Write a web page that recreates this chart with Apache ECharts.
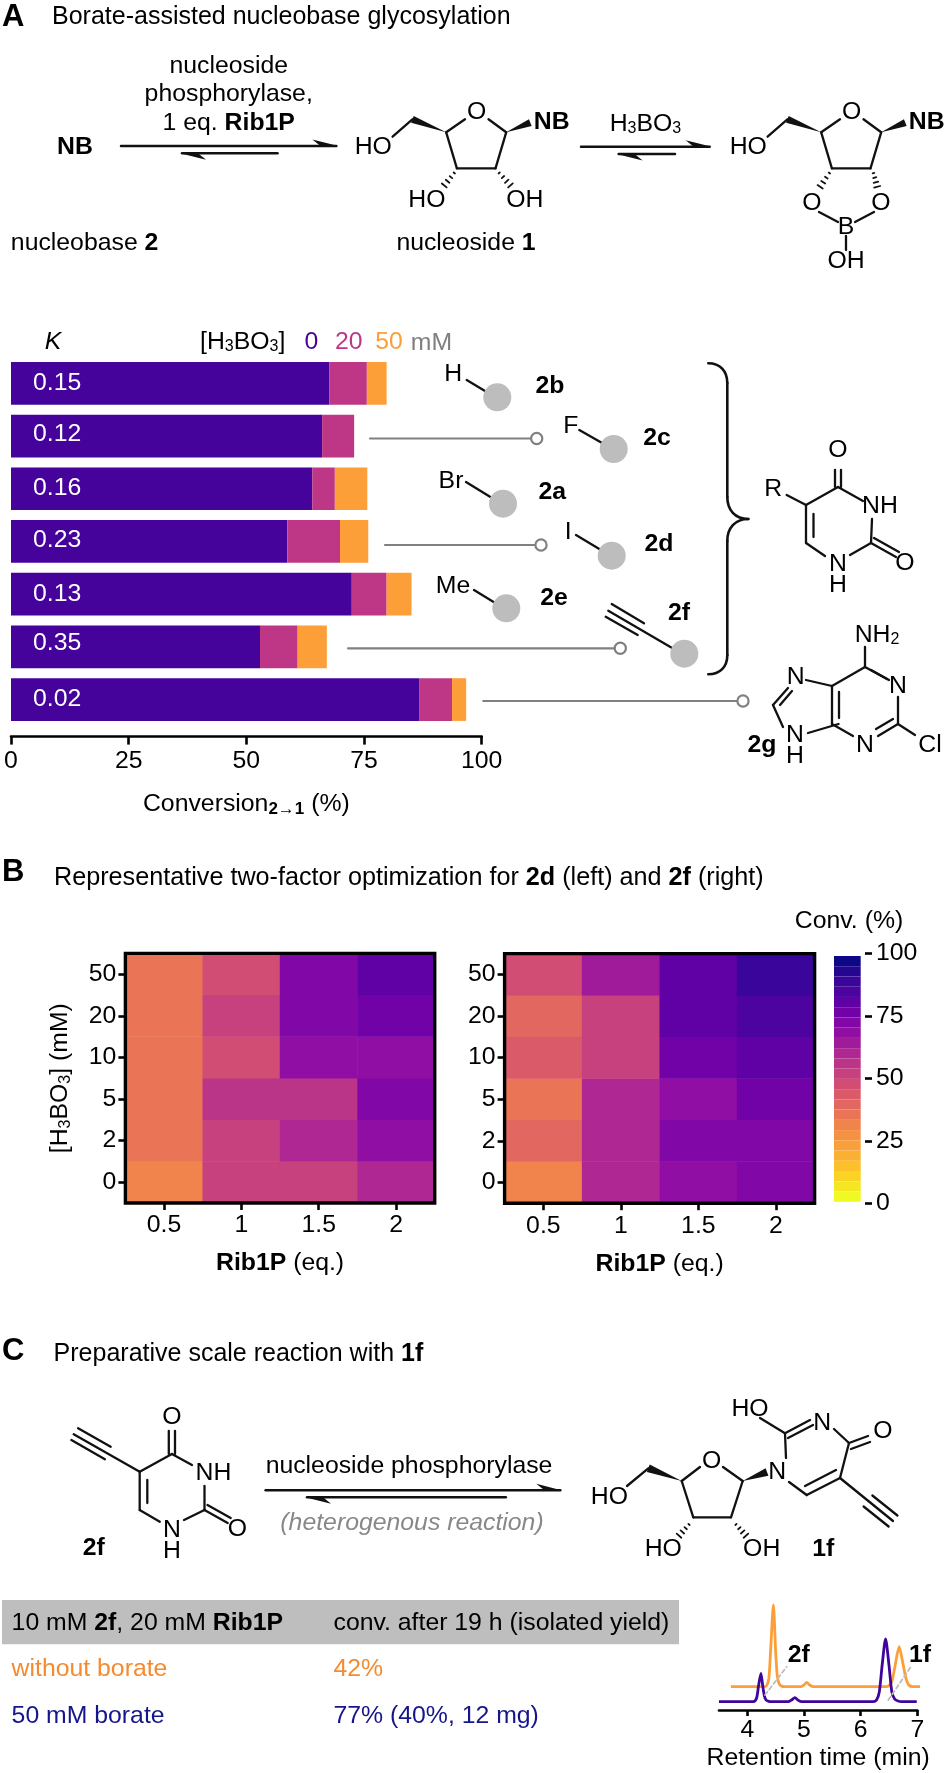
<!DOCTYPE html>
<html><head><meta charset="utf-8">
<style>html,body{margin:0;padding:0;background:#fff}#c{width:945px;height:1773px}</style>
<script src="https://cdn.jsdelivr.net/npm/echarts@6/dist/echarts.min.js"></script>
</head><body><div id="c"></div>
<script>
// ---------- data ----------
const kValues = ['0.15','0.12','0.16','0.23','0.13','0.35','0.02'];
const conv0  = [67.6, 66.1, 64.0, 58.7, 72.4, 52.9, 86.7];
const conv20 = [8.0, 6.8, 4.8, 11.2, 7.4, 8.0, 7.0];
const conv50 = [4.2, 0, 6.9, 6.0, 5.3, 6.2, 3.0];
const conversionTicks = [0, 25, 50, 75, 100];
const ribEq = ['0.5', '1', '1.5', '2'];
const boricBottomUp = ['0', '2', '5', '10', '20', '50'];
// rows listed from 0 mM (bottom) to 50 mM (top); columns follow ribEq
const heatLeftRows = [
  [31, 52, 52, 60],
  [35, 52, 60, 69],
  [35, 56, 56, 73],
  [35, 48, 69, 69],
  [35, 52, 73, 77],
  [35, 48, 73, 81]
];
const heatRightRows = [
  [31, 60, 69, 73],
  [40, 60, 73, 73],
  [35, 60, 69, 77],
  [44, 52, 77, 81],
  [40, 52, 81, 85],
  [48, 65, 81, 89.5]
];
const colorbarTicks = [0, 25, 50, 75, 100];
const retentionTicks = [4, 5, 6, 7];
const traceNoBorate = [[3.71,4.5],[4.3,4.5],[4.34,4.8],[4.38,7],[4.41,15],[4.46,29],[4.5,15],[4.53,7.5],[4.56,5.5],[4.6,4.7],[4.66,4.5],[4.95,4.5],[5.0,5],[5.05,5.8],[5.1,5],[5.16,4.5],[6.45,4.5],[6.5,4.8],[6.55,6],[6.6,10],[6.68,16.5],[6.74,12],[6.8,7],[6.85,5],[6.92,4.5],[7.19,4.5]];
const traceBorate = [[3.5,0],[4.1,0],[4.14,0.3],[4.17,1.5],[4.2,5],[4.24,8.5],[4.27,5],[4.3,1.8],[4.33,0.5],[4.38,0.1],[4.42,0],[4.72,0],[4.78,0.5],[4.84,1.2],[4.9,0.4],[4.96,0],[6.22,0],[6.28,0.5],[6.33,3],[6.38,11],[6.44,18.8],[6.5,11],[6.55,3],[6.6,0.8],[6.66,0.2],[6.72,0],[6.99,0]];

// ---------- style ----------
const FF = '"Liberation Sans", Arial, sans-serif';
const FS = 24.8;
const PURPLE = '#46039c', MAGENTA = '#bd3786', ORANGE = '#fd9f38', GREY = '#808080';
const plasmaLowToHigh = ['#f0f921','#fccd25','#fca636','#f2844b','#e16462','#cc4778','#b12a90','#8f0da4','#6a00a8','#41049d','#0d0887'];
const makeRich = size => ({
  n: {fontFamily: FF, fontSize: size, fill: '#000', color: '#000'},
  b: {fontFamily: FF, fontSize: size, fontWeight: 'bold', fill: '#000', color: '#000'},
  s: {fontFamily: FF, fontSize: 16, fill: '#000', color: '#000', padding: [10, 0, 0, 0]},
  sb: {fontFamily: FF, fontSize: 17, fontWeight: 'bold', fill: '#000', color: '#000', padding: [10, 0, 0, 0]}
});
const rich = makeRich(FS);

// ---------- graphic helpers ----------
const G = [];
const INK = '#111';
function L(x1, y1, x2, y2, w, c, extra) {
  G.push({type: 'line', silent: true, z: 40, shape: {x1, y1, x2, y2},
    style: Object.assign({stroke: c || INK, lineWidth: w || 2.3, lineCap: 'round'}, extra || {})});
}
function bonds(list) { list.forEach(b => L(b[0], b[1], b[2], b[3])); }
function T(x, y, text, o) {
  G.push({type: 'text', silent: true, z: 50, style: Object.assign({
    x, y, text, align: 'center', verticalAlign: 'middle', fontFamily: FF, fontSize: FS, fill: '#000', rich
  }, o || {})});
}
function wedge(x1, y1, x2, y2, hw) {
  const d = Math.hypot(x2 - x1, y2 - y1), nx = -(y2 - y1) / d * (hw || 3.6), ny = (x2 - x1) / d * (hw || 3.6);
  G.push({type: 'polygon', silent: true, z: 40, shape: {points: [[x1, y1], [x2 + nx, y2 + ny], [x2 - nx, y2 - ny]]}, style: {fill: INK}});
}
function hash(x1, y1, x2, y2) {
  const n = 4, d = Math.hypot(x2 - x1, y2 - y1), ux = -(y2 - y1) / d, uy = (x2 - x1) / d;
  for (let i = 0; i < n; i++) {
    const t = (i + 0.3) / n, cx = x1 + (x2 - x1) * t, cy = y1 + (y2 - y1) * t, h = 0.6 + t * 3;
    L(cx - ux * h, cy - uy * h, cx + ux * h, cy + uy * h, 1.8);
  }
}
function arrow(x1, y, x2, side) {
  const dir = x2 > x1 ? 1 : -1;
  L(x1, y, x2, y, 2.5);
  G.push({type: 'polygon', silent: true, z: 40, shape: {points: [[x2, y + side * 0.4], [x2 - dir * 24, y + side * 6.5], [x2 - dir * 16, y]]}, style: {fill: INK}});
}
function curve(x1, y1, cx1, cy1, cx2, cy2, x2, y2) {
  G.push({type: 'bezierCurve', silent: true, z: 40,
    shape: {x1, y1, x2, y2, cpx1: cx1, cpy1: cy1, cpx2: cx2, cpy2: cy2},
    style: {fill: 'none', stroke: INK, lineWidth: 2.6, lineCap: 'round'}});
}
function furanose(dx, dy) { // ribose ring, placed by offset
  bonds([[392.6,136.7,412.4,119.3],[446.2,132.3,465,119.3],[488.5,119.3,506.2,132.3],[506.2,132.3,495.5,168.3],[495.5,168.3,456.9,168.3],[456.9,168.3,446.2,132.3]].map(b => [b[0]+dx,b[1]+dy,b[2]+dx,b[3]+dy]));
  wedge(446.2+dx, 132.3+dy, 412.4+dx, 119.3+dy);
  wedge(506.2+dx, 132.3+dy, 530.3+dx, 122.7+dy);
  T(476.7+dx, 111.7+dy, 'O');
  T(373.3+dx, 146.7+dy, 'HO');
  T(551.7+dx, 121.7+dy, '{b|NB}');
}

// ---------- panel A scheme ----------
T(2, 17, 'A', {align: 'left', fontWeight: 'bold', fontSize: 31});
T(52, 17, 'Borate-assisted nucleobase glycosylation', {align: 'left', fontSize: 25});
T(228.7, 66, 'nucleoside');
T(228.7, 94.3, 'phosphorylase,');
T(228.7, 122.7, '{n|1 eq. }{b|Rib1P}');
T(75, 146.7, '{b|NB}');
arrow(121, 146, 336.4, -1);
arrow(277.5, 153.3, 182, 1);
furanose(0, 0);
hash(455.3, 171.7, 441.9, 188.3);
hash(498.1, 171.7, 513.1, 188.3);
T(426.9, 200, 'HO');
T(524.9, 200, 'OH');
T(84.6, 243, '{n|nucleobase }{b|2}');
T(466, 243, '{n|nucleoside }{b|1}');
T(645.4, 124, '{n|H}{s|3}{n|BO}{s|3}');
arrow(581, 146.7, 709.7, -1);
arrow(675, 154, 618.6, 1);
furanose(375, 0);
hash(830.3, 171.7, 818, 190);
hash(873.1, 171.7, 878, 190);
T(812, 203, 'O');
T(881, 203, 'O');
T(846, 227, 'B');
T(846, 261, 'OH');
bonds([[819,212,838,222],[874,212,855,222],[846,236,846,250]]);

// ---------- panel A chart annotations ----------
T(53, 342, 'K', {fontStyle: 'italic'});
T(200, 342, '{n|[H}{s|3}{n|BO}{s|3}{n|]}', {align: 'left'});
T(311.5, 342, '0', {fill: PURPLE});
T(348.7, 342, '20', {fill: MAGENTA});
T(389, 342, '50', {fill: ORANGE});
T(431.5, 343, 'mM', {fill: GREY});
[[370, 438.5, 536.7],[385, 545, 541],[348, 648.3, 620.3],[483.3, 701, 743]].forEach(c => {
  L(c[0], c[1], c[2] - 6, c[1], 2.2, GREY);
  G.push({type: 'circle', silent: true, z: 41, shape: {cx: c[2], cy: c[1], r: 5.6}, style: {fill: '#fff', stroke: GREY, lineWidth: 2.2}});
});
function sub(tx, ty, label, bx1, by1, bx2, by2, cx, cy, nx, ny, name) {
  if (label) T(tx, ty, label);
  L(bx1, by1, bx2, by2);
  G.push({type: 'circle', silent: true, z: 41, shape: {cx, cy, r: 14}, style: {fill: '#bdbdbd'}});
  T(nx, ny, '{b|' + name + '}');
}
sub(453.3, 374, 'H', 466.7, 380, 485, 391, 497.3, 397.3, 550, 385.7, '2b');
sub(570.7, 426, 'F', 579.3, 430, 601.7, 442.7, 613.7, 449, 657, 437.7, '2c');
sub(451, 480.7, 'Br', 466, 482, 490, 496.7, 503, 503.7, 552.3, 492.3, '2a');
sub(568.3, 532.3, 'I', 576, 535, 599.3, 549, 611.7, 555.7, 659, 544.3, '2d');
sub(453, 586, 'Me', 474, 590, 494, 602.3, 506.3, 608.3, 554, 597.7, '2e');
sub(0, 0, '', 608.3, 610.7, 671.7, 647.7, 684.3, 653.7, 679, 613.3, '2f');
bonds([[611.7,604,644,623.3],[605.7,616.7,637.7,635]]);
curve(708.3,363.3, 720,363.3, 727.3,371, 727.3,383);
L(727.3,383,727.3,497,2.6);
curve(727.3,497, 727.3,510, 735,519, 748.3,519);
curve(748.3,519, 735,519, 727.3,528, 727.3,541);
L(727.3,541,727.3,655,2.6);
curve(727.3,655, 727.3,667, 720,674.3, 708.3,674.3);
// uracil with R
T(773.3, 489, 'R');
bonds([[786.7,495,806,505],[806,505,838,487],[838,487,863,501],[872,519,871,543],[871,543,850,555],[825,556,806,543],[806,543,806,505],[813.5,514,813.5,537],[835,470,835,487],[841,470,841,487],[871,543,896,557],[874,538,899,552]]);
T(838, 450, 'O');
T(880, 506, 'NH');
T(838, 564, 'N');
T(838, 585, 'H');
T(905, 563, 'O');
// 2-chloroadenine
T(795.7, 676.7, 'N');
T(898, 686, 'N');
T(865, 745, 'N');
T(795, 735, 'N');
T(795, 756, 'H');
T(877, 635, '{n|NH}{s|2}');
T(930, 745, 'Cl');
T(762, 745, '{b|2g}');
bonds([[806,680,832,686],[832,686,865,667],[865,667,887,679],[898,697,898,724],[898,724,878,736],[853,736,832,724],[832,724,832,686],[839,692,839,718],[838.5,724,808,733],[783,727,773,705],[773,705,788,688],[780,705,792,691],[865,667,865,647],[871,670,889,680],[893,719,876,729],[898,724,915,735]]);

// ---------- panel B text ----------
T(2, 872, 'B', {align: 'left', fontWeight: 'bold', fontSize: 31});
T(54, 878, '{n|Representative two-factor optimization for }{b|2d}{n| (left) and }{b|2f}{n| (right)}', {align: 'left', rich: makeRich(25.2)});
T(849, 921, 'Conv. (%)');

// ---------- panel C ----------
T(2, 1351, 'C', {align: 'left', fontWeight: 'bold', fontSize: 31});
T(53.6, 1354, '{n|Preparative scale reaction with }{b|1f}', {align: 'left', rich: makeRich(25)});
bonds([[78.1,1428.3,110.7,1446.7],[71.4,1440,104.9,1459.3],[73.7,1434.3,139.7,1471.7],[139.7,1471.7,171.9,1454],[171.9,1454,192,1465],[204.5,1486,204.5,1510],[204.5,1510,184,1520],[159.8,1521.7,139.7,1510],[139.7,1510,139.7,1471.7],[147.3,1480,147.3,1503],[168.8,1431,168.8,1454],[175,1431,175,1454],[204.5,1510,227.7,1523],[207.5,1505,230.7,1518]]);
T(171.9, 1416.7, 'O');
T(213.4, 1473, 'NH');
T(171.9, 1530, 'N');
T(171.9, 1551, 'H');
T(237.5, 1529, 'O');
T(93.75, 1548.3, '{b|2f}');
T(409, 1466, 'nucleoside phosphorylase');
arrow(265.6, 1490.3, 560.3, -1);
arrow(505.8, 1497.3, 307, 1);
T(412, 1522.7, '(heterogenous reaction)', {fontStyle: 'italic', fill: '#888'});
bonds([[627,1486,648.3,1468.3],[681.7,1481,700,1467],[723,1467,742.7,1481],[742.7,1481,731,1517.3],[731,1517.3,693.3,1517.3],[693.3,1517.3,681.7,1481],[786,1458,785,1433.3],[785,1433.3,810,1420],[788,1438,813,1425],[760,1418,785,1433.3],[834,1429,849,1443],[849,1443,840,1478],[840,1478,806.7,1495],[836,1470,805,1486],[806.7,1495,789,1482],[849,1443,868,1436],[851,1449,870,1442],[840,1478,893,1521],[872.4,1495.5,897.4,1515.5],[863.6,1506.5,888.6,1526.5]]);
wedge(681.7, 1481, 648.3, 1468.3, 4);
wedge(742.7, 1481, 767, 1472, 4);
hash(690, 1523.3, 676.7, 1538.3);
hash(735, 1523.3, 748.3, 1538.3);
T(711.7, 1460.7, 'O');
T(609.4, 1496.7, 'HO');
T(663.3, 1549, 'HO');
T(761.7, 1549, 'OH');
T(823.3, 1549, '{b|1f}');
T(777.3, 1471.7, 'N');
T(750, 1409.3, 'HO');
T(822.3, 1423.3, 'N');
T(883, 1431, 'O');
// table
G.push({type: 'rect', silent: true, z: 30, shape: {x: 2, y: 1600, width: 677, height: 44.3}, style: {fill: '#bebebe'}});
T(11.6, 1623, '{n|10 mM }{b|2f}{n|, 20 mM }{b|Rib1P}', {align: 'left'});
T(333.5, 1623, 'conv. after 19 h (isolated yield)', {align: 'left'});
T(11.6, 1669.3, 'without borate', {align: 'left', fill: '#f58a2e'});
T(333.5, 1669.3, '42%', {align: 'left', fill: '#f58a2e'});
T(11.6, 1716, '50 mM borate', {align: 'left', fill: '#16168c'});
T(333.5, 1716, '77% (40%, 12 mg)', {align: 'left', fill: '#16168c'});
// chromatogram annotations
L(765, 1695, 786.7, 1666.7, 1.8, '#bdbdbd', {lineDash: [4, 3]});
L(888.3, 1700, 911, 1666.7, 1.8, '#bdbdbd', {lineDash: [4, 3]});
T(798.7, 1655, '{b|2f}');
T(920, 1655, '{b|1f}');

// ---------- grids ----------
const gBar = {left: 11, top: 357, width: 470.7, height: 368.9};
const gHL = {left: 125.4, top: 953.4, width: 309.3, height: 249.6};
const gHR = {left: 504.6, top: 953.6, width: 310, height: 249.6};
const gCB = {left: 865, top: 953.3, width: 1, height: 250};
const gCh = {left: 719, top: 1601.67, width: 198.3, height: 108.33};
[gHL, gHR].forEach(g => G.push({type: 'rect', silent: true, z: 60,
  shape: {x: g.left, y: g.top, width: g.width, height: g.height},
  style: {fill: 'none', stroke: '#000', lineWidth: 3.4}}));

const lab = {fontFamily: FF, fontSize: FS, color: '#000'};
const blackLine = {show: true, onZero: false, lineStyle: {color: '#000', width: 2.6}};
const tick = len => ({show: true, length: len, lineStyle: {color: '#000', width: 2.6}});
function heatX(gridIndex) {
  return {type: 'category', gridIndex, data: ribEq, position: 'bottom',
    axisLine: {show: false, onZero: false}, axisTick: Object.assign(tick(7), {alignWithLabel: true}),
    axisLabel: Object.assign({margin: 10}, lab), splitLine: {show: false},
    name: '{b|Rib1P}{n| (eq.)}', nameLocation: 'center', nameGap: 48, nameMoveOverlap: false,
    nameTextStyle: {rich}};
}
function heatY(gridIndex, named) {
  const a = {type: 'category', gridIndex, data: boricBottomUp, position: 'left',
    axisLine: {show: false, onZero: false}, axisTick: Object.assign(tick(7), {alignWithLabel: true}),
    axisLabel: Object.assign({margin: 9}, lab), splitLine: {show: false}};
  if (named) Object.assign(a, {name: '{n|[H}{s|3}{n|BO}{s|3}{n|] (mM)}', nameLocation: 'center', nameGap: 52, nameMoveOverlap: false, nameTextStyle: {rich}});
  return a;
}
const heatData = rows => rows.flatMap((r, y) => r.map((v, x) => [x, y, v]));
const kNudge = {0: 0, 1: -2, 2: -1, 3: -1, 4: 0, 5: -4, 6: 0};

const option = {
  animation: false,
  backgroundColor: '#fff',
  textStyle: {fontFamily: FF},
  grid: [gBar, gHL, gHR, gCB, gCh],
  xAxis: [
    {type: 'value', gridIndex: 0, min: 0, max: 100, interval: 25, offset: 10.7, position: 'bottom',
      axisLine: blackLine, axisTick: tick(8), axisLabel: Object.assign({margin: 12, showMaxLabel: true, showMinLabel: true}, lab),
      splitLine: {show: false},
      name: '{n|Conversion}{sb|2→1}{n| (%)}', nameLocation: 'center', nameGap: 54, nameMoveOverlap: false, nameTextStyle: {rich}},
    heatX(1), heatX(2),
    {type: 'value', gridIndex: 3, show: false, min: 0, max: 1},
    {type: 'value', gridIndex: 4, min: 3.5, max: 7, position: 'bottom',
      axisLine: blackLine, axisTick: Object.assign(tick(6), {customValues: retentionTicks}),
      axisLabel: Object.assign({margin: 8, customValues: retentionTicks}, lab), splitLine: {show: false},
      name: 'Retention time (min)', nameLocation: 'center', nameGap: 36, nameMoveOverlap: false, nameTextStyle: lab}
  ],
  yAxis: [
    {type: 'category', gridIndex: 0, inverse: true, show: false, data: kValues},
    heatY(1, true), heatY(2, false),
    {type: 'value', gridIndex: 3, position: 'right', min: 0, max: 100, interval: 25,
      axisLine: {show: false}, axisTick: tick(7), axisLabel: Object.assign({margin: 10}, lab), splitLine: {show: false}},
    {type: 'value', gridIndex: 4, show: false, min: -2.5, max: 30}
  ],
  visualMap: {
    type: 'piecewise', seriesIndex: [5, 6], min: 0, max: 100, splitNumber: 24, precision: 2,
    left: 834, top: 956, padding: 0, itemWidth: 26.7, itemHeight: 10.24, itemGap: 0,
    itemSymbol: 'rect', showLabel: false, selectedMode: false, hoverLink: false, orient: 'vertical',
    inRange: {color: plasmaLowToHigh}, textStyle: {fontSize: 1}
  },
  series: [
    {type: 'bar', name: '0 mM', stack: 'conv', xAxisIndex: 0, yAxisIndex: 0, barWidth: 42.7, itemStyle: {color: PURPLE},
      data: conv0.map((v, i) => ({value: v, label: {offset: [0, kNudge[i]]}})),
      label: {show: true, position: 'insideLeft', distance: 22, color: '#fff', fontFamily: FF, fontSize: FS,
        formatter: p => kValues[p.dataIndex]}},
    {type: 'bar', name: '20 mM', stack: 'conv', xAxisIndex: 0, yAxisIndex: 0, barWidth: 42.7, itemStyle: {color: MAGENTA}, data: conv20},
    {type: 'bar', name: '50 mM', stack: 'conv', xAxisIndex: 0, yAxisIndex: 0, barWidth: 42.7, itemStyle: {color: ORANGE}, data: conv50},
    {type: 'line', name: 'without borate', xAxisIndex: 4, yAxisIndex: 4, data: traceNoBorate, showSymbol: false, clip: false, smooth: 0.25,
      lineStyle: {color: '#fd9f38', width: 2.8}, z: 3},
    {type: 'line', name: '50 mM borate', xAxisIndex: 4, yAxisIndex: 4, data: traceBorate, showSymbol: false, clip: false, smooth: 0.25,
      lineStyle: {color: '#3f059b', width: 2.8}, z: 4},
    {type: 'heatmap', name: '2d', xAxisIndex: 1, yAxisIndex: 1, data: heatData(heatLeftRows), itemStyle: {borderWidth: 0}},
    {type: 'heatmap', name: '2f', xAxisIndex: 2, yAxisIndex: 2, data: heatData(heatRightRows), itemStyle: {borderWidth: 0}}
  ],
  graphic: {elements: G}
};
const chart = echarts.init(document.getElementById('c'), null, {width: 945, height: 1773});
chart.setOption(option);
</script></body></html>
